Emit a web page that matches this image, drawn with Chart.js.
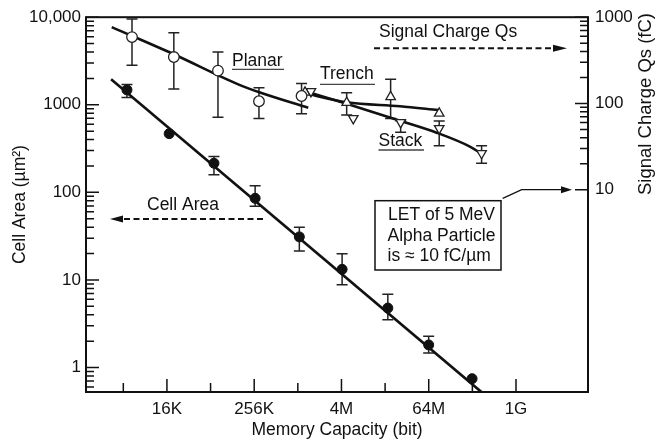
<!DOCTYPE html>
<html>
<head>
<meta charset="utf-8">
<script src="https://cdn.jsdelivr.net/npm/chart.js@4.4.1/dist/chart.umd.min.js"></script>
<style>
  html, body { margin: 0; padding: 0; background: #fff; }
  canvas { display: block; }
</style>
</head>
<body>
<canvas id="myChart" width="659" height="441"></canvas>
<script>
// ---- data (x = memory capacity in bit) ----
// Cell area, um^2 (left axis)
var cellBits    = [4600, 17600, 73000, 270000, 1100000, 4280000, 18300000, 67000000, 266000000];
var cellArea    = [1479, 468, 215, 85.5, 31, 13.2, 4.77, 1.81, 0.745];
var cellErrLow  = [1211, null, 159, 69.3, 21.4, 8.8, 3.51, 1.46, null];
var cellErrHigh = [1702, null, 256, 119, 40, 19.9, 6.87, 2.27, null];
var cellFitBits = [2780, 362000000];
var cellFitArea = [1960, 0.52];

// Signal charge Qs, fC (right axis)
var planarBits    = [5400, 20400, 82900, 305000, 1180000];
var planarQs      = [588, 345, 240, 106, 122];
var planarErrLow  = [277, 147, 69, 67, 76];
var planarErrHigh = [956, 659, 394, 152, 170];
var planarCurveBits = [2836, 20000, 167000, 315000, 1460000];
var planarCurveQs   = [767, 374, 163, 134, 89];

var trenchBits    = [1318000, 4950000, 20000000, 93600000];
var trenchQs      = [134.5, 102, 119.3, 76.6];
var trenchErrLow  = [null, 73.4, 67, null];
var trenchErrHigh = [null, 132.8, 191, null];
var trenchCurveBits = [1236000, 4950000, 26900000, 90800000];
var trenchCurveQs   = [132.8, 103.1, 92.7, 83.8];

var stackBits    = [1588000, 6100000, 27500000, 93600000, 360000000];
var stackQs      = [138, 67, 60.3, 51.4, 26.4];
var stackErrLow  = [null, null, 46.2, 32.4, 20.3];
var stackErrHigh = [null, null, 63, 62.5, 32.4];
var stackCurveBits = [1403000, 4950000, 29800000, 86300000, 248000000, 352000000];
var stackCurveQs   = [136.3, 99.1, 61.4, 45.8, 31.6, 26.4];

// ---- axes ----
var xTickValues = [4096, 16384, 65536, 262144, 1048576, 4194304, 16777216, 67108864, 268435456, 1073741824];
var xTickLabels = ['', '16K', '', '256K', '', '4M', '', '64M', '', '1G'];
var yMajor  = [1, 10, 100, 1000, 10000];
var yLabels = ['1', '10', '100', '1000', '10,000'];
var y2Major  = [10, 100, 1000];
var y2Labels = ['10', '100', '1000'];

function logTicks(from, to, majors) {
  // majors plus 2..9 minors between from and to
  var out = [];
  for (var d = 0.1; d < to; d *= 10) {
    for (var m = 1; m <= 9; m++) {
      var v = +(d * m).toPrecision(3);
      if (v >= from && v <= to) out.push(v);
    }
  }
  if (majors.indexOf(to) >= 0 && out.indexOf(to) < 0) out.push(to);
  return out;
}
var yTickValues = logTicks(0.6, 10000, yMajor);
var y2TickValues = logTicks(10, 1000, y2Major);

function pts(xs, ys) {
  return xs.map(function (x, i) { return { x: x, y: ys[i] }; });
}

var FONT = '"Liberation Sans", Arial, sans-serif';
var INK = '#111';

var errorBars = {
  id: 'errorBars',
  beforeDatasetsDraw: function (chart) {
    var c = chart.ctx;
    c.save();
    c.strokeStyle = '#222';
    c.lineWidth = 1.5;
    chart.data.datasets.forEach(function (ds) {
      if (!ds.errLow) return;
      var xs = chart.scales.x, ys = chart.scales[ds.yAxisID];
      ds.data.forEach(function (p, i) {
        if (ds.errLow[i] == null) return;
        var px = xs.getPixelForValue(p.x);
        var y1 = ys.getPixelForValue(ds.errLow[i]);
        var y2 = ys.getPixelForValue(ds.errHigh[i]);
        c.beginPath();
        c.moveTo(px, y1); c.lineTo(px, y2);
        c.moveTo(px - 5.5, y1); c.lineTo(px + 5.5, y1);
        c.moveTo(px - 5.5, y2); c.lineTo(px + 5.5, y2);
        c.stroke();
      });
    });
    c.restore();
  }
};

function head(c, x, y, dir, len, half) {
  c.beginPath();
  c.moveTo(x, y);
  c.lineTo(x - dir * len, y - half);
  c.lineTo(x - dir * len, y + half);
  c.closePath();
  c.fill();
}

var frameAndNotes = {
  id: 'frameAndNotes',
  afterDraw: function (chart) {
    var c = chart.ctx, a = chart.chartArea;
    c.save();
    c.strokeStyle = INK;
    c.fillStyle = INK;

    // inward tick marks
    c.lineWidth = 1.5;
    c.beginPath();
    chart.scales.x.ticks.forEach(function (t) {
      var p = chart.scales.x.getPixelForValue(t.value);
      c.moveTo(p, a.bottom); c.lineTo(p, a.bottom - (t.label ? 13 : 9));
    });
    chart.scales.y.ticks.forEach(function (t) {
      var p = chart.scales.y.getPixelForValue(t.value);
      c.moveTo(a.left, p); c.lineTo(a.left + (t.label ? 13 : 8), p);
    });
    chart.scales.y2.ticks.forEach(function (t) {
      var p = chart.scales.y2.getPixelForValue(t.value);
      c.moveTo(a.right, p); c.lineTo(a.right - (t.label ? 13 : 8), p);
    });
    c.stroke();

    // frame
    c.lineWidth = 2;
    c.strokeRect(a.left, a.top, a.right - a.left, a.bottom - a.top);

    // labels
    c.font = '17.5px ' + FONT;
    c.textAlign = 'left';
    c.textBaseline = 'middle';
    c.fillText('Signal Charge Qs', 379, 32.5);
    c.fillText('Planar', 232, 61);
    c.fillText('Trench', 320, 74.5);
    c.fillText('Stack', 378.5, 141);
    c.fillText('Cell Area', 147, 205);

    c.lineWidth = 1.3;
    c.strokeStyle = '#444';
    c.beginPath();
    c.moveTo(232, 69.3); c.lineTo(284, 69.3);
    c.moveTo(320, 84.3); c.lineTo(375, 84.3);
    c.moveTo(378.5, 150); c.lineTo(424, 150);
    c.stroke();

    // dashed arrows
    c.strokeStyle = INK;
    c.lineWidth = 2;
    c.setLineDash([6, 3.5]);
    c.beginPath();
    c.moveTo(374, 48.3); c.lineTo(554, 48.3);
    c.moveTo(263, 219); c.lineTo(122, 219);
    c.stroke();
    c.setLineDash([]);
    head(c, 567, 48.3, 1, 14, 3.5);
    head(c, 110, 219, -1, 13, 3.5);

    // LET box
    c.lineWidth = 1.5;
    c.strokeRect(375, 200.7, 126, 69.3);
    c.fillText('LET of 5 MeV', 388, 215.5);
    c.fillText('Alpha Particle', 387.5, 236);
    c.fillText('is \u2248 10 fC/\u00b5m', 387.5, 256);

    // leader to 10 fC
    var ty = chart.scales.y2.getPixelForValue(10);
    c.lineWidth = 1.3;
    c.beginPath();
    c.moveTo(502.7, 198.3); c.lineTo(521.7, ty); c.lineTo(562, ty);
    c.stroke();
    head(c, 572, ty, 1, 11, 3.5);

    // right axis title (reads bottom to top)
    c.translate(645.5, 104);
    c.rotate(-Math.PI / 2);
    c.textAlign = 'center';
    c.font = '18.5px ' + FONT;
    c.fillText('Signal Charge Qs (fC)', 0, 0);
    c.restore();
  }
};

var ctx = document.getElementById('myChart');

var myChart = new Chart(ctx, {
  type: 'scatter',
  data: {
    datasets: [
      {
        label: 'Cell Area',
        data: pts(cellBits, cellArea),
        yAxisID: 'y',
        errLow: cellErrLow, errHigh: cellErrHigh,
        pointStyle: 'circle', pointRadius: 5,
        pointBackgroundColor: INK, pointBorderColor: INK, pointBorderWidth: 1,
        showLine: false, order: 0
      },
      {
        label: 'Planar',
        data: pts(planarBits, planarQs),
        yAxisID: 'y2',
        errLow: planarErrLow, errHigh: planarErrHigh,
        pointStyle: 'circle', pointRadius: 5.3,
        pointBackgroundColor: '#fff', pointBorderColor: '#222', pointBorderWidth: 1.3,
        showLine: false, order: 0
      },
      {
        label: 'Trench',
        data: pts(trenchBits, trenchQs),
        yAxisID: 'y2',
        errLow: trenchErrLow, errHigh: trenchErrHigh,
        pointStyle: 'triangle', pointRadius: 5.5,
        pointBackgroundColor: '#fff', pointBorderColor: '#222', pointBorderWidth: 1.3,
        showLine: false, order: 0
      },
      {
        label: 'Stack',
        data: pts(stackBits, stackQs),
        yAxisID: 'y2',
        errLow: stackErrLow, errHigh: stackErrHigh,
        pointStyle: 'triangle', pointRotation: 180, pointRadius: 5.5,
        pointBackgroundColor: '#fff', pointBorderColor: '#222', pointBorderWidth: 1.3,
        showLine: false, order: 0
      },
      {
        label: 'Cell Area fit',
        data: pts(cellFitBits, cellFitArea),
        yAxisID: 'y',
        showLine: true, pointRadius: 0, borderColor: INK, borderWidth: 2.6,
        order: 1
      },
      {
        label: 'Planar curve',
        data: pts(planarCurveBits, planarCurveQs),
        yAxisID: 'y2',
        showLine: true, pointRadius: 0, borderColor: INK, borderWidth: 2.6,
        cubicInterpolationMode: 'monotone', order: 1
      },
      {
        label: 'Trench curve',
        data: pts(trenchCurveBits, trenchCurveQs),
        yAxisID: 'y2',
        showLine: true, pointRadius: 0, borderColor: INK, borderWidth: 2.6,
        cubicInterpolationMode: 'monotone', order: 1
      },
      {
        label: 'Stack curve',
        data: pts(stackCurveBits, stackCurveQs),
        yAxisID: 'y2',
        showLine: true, pointRadius: 0, borderColor: INK, borderWidth: 2.6,
        cubicInterpolationMode: 'monotone', order: 1
      }
    ]
  },
  options: {
    responsive: false,
    animation: false,
    devicePixelRatio: 1,
    layout: { padding: { top: 15, left: 0, right: 0, bottom: 0 } },
    plugins: { legend: { display: false }, tooltip: { enabled: false } },
    scales: {
      x: {
        type: 'logarithmic',
        min: 1252, max: 10580000000,
        afterBuildTicks: function (s) {
          s.ticks = xTickValues.map(function (v) { return { value: v }; });
        },
        afterFit: function (s) { s.height = 49; },
        grid: { display: false, drawTicks: false },
        border: { display: false },
        ticks: {
          autoSkip: false, maxRotation: 0, padding: 7, color: INK,
          font: { family: FONT, size: 17 },
          callback: function (v, i) { return xTickLabels[i]; }
        },
        title: {
          display: true, text: 'Memory Capacity (bit)', color: INK,
          font: { family: FONT, size: 17.5 },
          padding: { top: 0, bottom: 0 }
        }
      },
      y: {
        type: 'logarithmic',
        position: 'left',
        min: 0.525, max: 10000,
        afterBuildTicks: function (s) {
          s.ticks = yTickValues.map(function (v) { return { value: v }; });
        },
        afterFit: function (s) { s.width = 86; },
        grid: { display: false, drawTicks: false },
        border: { display: false },
        ticks: {
          autoSkip: false, padding: 5, color: INK,
          font: { family: FONT, size: 17 },
          callback: function (v) {
            var k = yMajor.indexOf(v);
            return k >= 0 ? yLabels[k] : '';
          }
        },
        title: {
          display: true, text: 'Cell Area (\u00b5m\u00b2)', color: INK,
          font: { family: FONT, size: 17.5 },
          padding: { top: 10, bottom: 0 }
        }
      },
      y2: {
        type: 'logarithmic',
        position: 'right',
        min: 0.045, max: 1000,
        afterBuildTicks: function (s) {
          s.ticks = y2TickValues.map(function (v) { return { value: v }; });
        },
        afterFit: function (s) { s.width = 71; },
        grid: { display: false, drawTicks: false },
        border: { display: false },
        ticks: {
          autoSkip: false, padding: 7, color: INK,
          font: { family: FONT, size: 17 },
          callback: function (v) {
            var k = y2Major.indexOf(v);
            return k >= 0 ? y2Labels[k] : '';
          }
        }
      }
    }
  },
  plugins: [errorBars, frameAndNotes]
});
</script>
</body>
</html>
